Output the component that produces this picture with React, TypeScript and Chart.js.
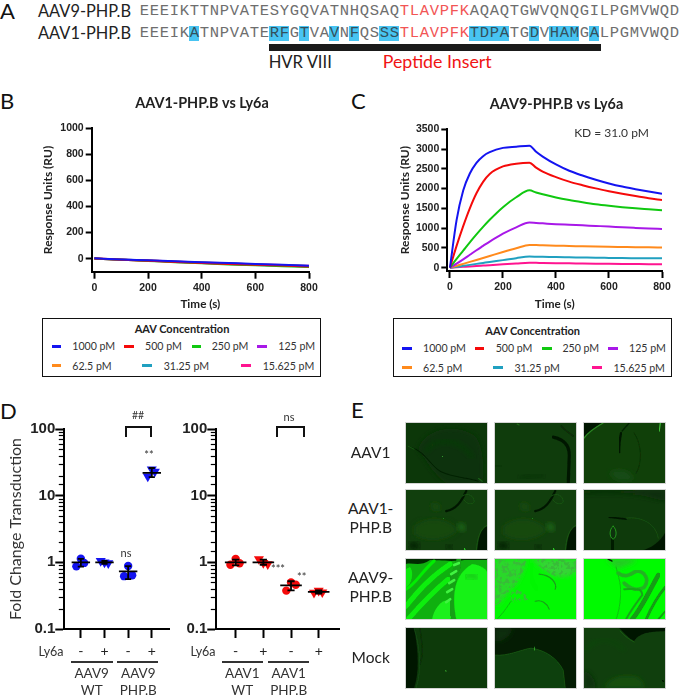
import React, { useEffect, useRef } from "react";
import { Chart, registerables } from "chart.js";

Chart.register(...registerables);

// ---------- Panel A ----------
const seqAAV9 = "EEEIKTTNPVATESYGQVATNHQSAQTLAVPFKAQAQTGWVQNQGILPGMVWQD";
const seqAAV1 = "EEEIKATNPVATERFGTVAVNFQSSSTLAVPFKTDPATGDVHAMGALPGMVWQD";
const insertIdx = [26, 27, 28, 29, 30, 31, 32];
const highlightIdx = [5, 13, 14, 16, 19, 21, 24, 25, 33, 34, 35, 36, 39, 41, 42, 43, 45];

// ---------- Panels B, C ----------
const concLabels = ["1000 pM", "500 pM", "250 pM", "125 pM", "62.5 pM", "31.25 pM", "15.625 pM"];
const concColors = ["#1414f0", "#f50a0a", "#10c810", "#a818e8", "#ff8a1c", "#20a0c0", "#ff1490"];
const timeC = [0, 25, 50, 75, 100, 125, 150, 200, 250, 300, 325, 350, 400, 450, 500, 550, 600, 650, 700, 750, 800];
const c1000 = [0, 1200, 1950, 2380, 2650, 2820, 2920, 3030, 3060, 3085, 2930, 2810, 2610, 2450, 2330, 2225, 2130, 2050, 1985, 1925, 1870];
const c500 = [0, 550, 1050, 1500, 1880, 2170, 2370, 2560, 2630, 2655, 2530, 2430, 2290, 2175, 2085, 2005, 1935, 1870, 1810, 1755, 1710];
const c250 = [0, 220, 430, 640, 840, 1030, 1210, 1530, 1780, 1955, 1900, 1855, 1775, 1710, 1655, 1605, 1565, 1530, 1500, 1475, 1450];
const c125 = [0, 100, 210, 325, 440, 550, 660, 860, 1020, 1140, 1130, 1120, 1100, 1085, 1070, 1055, 1040, 1020, 1005, 992, 980];
const c62 = [0, 45, 95, 145, 195, 245, 295, 395, 490, 575, 572, 565, 555, 548, 540, 533, 527, 522, 517, 513, 510];
const c31 = [0, 20, 45, 70, 95, 120, 145, 190, 240, 280, 278, 275, 268, 262, 256, 250, 246, 242, 239, 236, 235];
const c15 = [0, 10, 20, 30, 42, 52, 62, 85, 105, 125, 122, 118, 112, 108, 103, 99, 96, 93, 90, 87, 85];
const seriesC = [c1000, c500, c250, c125, c62, c31, c15];

const timeB = [0, 100, 200, 300, 400, 500, 600, 700, 800];
const b1000 = [3, -6, -12, -19, -28, -34, -40, -47, -54];
const b500 = [2, -8, -16, -25, -34, -41, -47, -53, -60];
const b250 = [1, -9, -17, -27, -36, -44, -51, -58, -64];
const b125 = [1, -8, -16, -25, -33, -41, -48, -54, -60];
const b62 = [1, -8, -15, -23, -31, -39, -46, -52, -58];
const b31 = [1, -7, -14, -22, -30, -37, -44, -50, -56];
const b15 = [1, -7, -14, -21, -29, -36, -43, -49, -55];
const seriesB = [b1000, b500, b250, b125, b62, b31, b15];

const xTicksSpr = [0, 200, 400, 600, 800];
const yTicksB = [0, 200, 400, 600, 800, 1000];
const yTicksC = [0, 500, 1000, 1500, 2000, 2500, 3000, 3500];

// ---------- Panel D ----------
const ly6a = ["-", "+", "-", "+"];
const aav9Points = [
  [1.13, 0.87, 0.98],
  [1.05, 0.97, 1.0],
  [0.88, 0.62, 0.64],
  [24.7, 19.4, 23],
];
const aav1Points = [
  [1.12, 0.92, 0.97],
  [1.12, 0.94, 0.98],
  [0.5, 0.376, 0.46],
  [0.375, 0.35, 0.355],
];
const jitter = [
  [0, -0.19, 0.14],
  [-0.16, 0.16, 0],
  [0, -0.17, 0.17],
  [0, -0.17, 0.13],
];
const aav9Means = [1.0, 1.0, 0.73, 22];
const aav9Low = [0.86, 0.95, 0.56, 19];
const aav9High = [1.13, 1.05, 0.88, 26];
const aav1Means = [1.0, 1.0, 0.45, 0.36];
const aav1Low = [0.9, 0.92, 0.38, 0.34];
const aav1High = [1.1, 1.1, 0.52, 0.38];

const FS = "Lato, 'Open Sans', sans-serif";
const AR = "'Liberation Sans', Arial, sans-serif";

// ---------- Panel E tile drawings ----------
type Sh = { d: string; f?: string; s?: string; w?: number; g?: boolean; n?: boolean };
type TileDef = { x: number; y: number; bg: string; sh: Sh[] };
const colX = [406, 495, 584];
const rowY = [423, 490, 558.7, 627.7];
const dimTwin: Sh[] = [
  { d: "M8 36 C22 24 44 28 52 40 C40 52 18 52 8 44Z", f: "#154a11", g: true },
  { d: "M52 33 C58 31 62 38 58 41 C54 43 50 38 52 33Z", f: "#1f6419", g: true },
  { d: "M24 14 C30 10 36 14 34 20 C30 24 24 20 24 14Z", f: "#154a11", g: true },
  { d: "M40 21 C50 19 55 12 60 1", s: "#041804", w: 2.2 },
  { d: "M56 6 C62 2 68 6 68 12 C66 15 60 14 58 10", s: "#1a5714", w: 0.8 },
  { d: "M3 54 C6 50 13 52 13 57 C10 60 4 59 3 54Z", f: "#051c04", g: true },
  { d: "M40 55 C43 53 47 55 46 58 C44 60 41 58 40 55Z", f: "#051c04", g: true },
  { d: "M81 36 C73 39 72 52 71 60 L81 60Z", f: "#041604" },
  { d: "M81 35 C73 38 71 50 70 60", s: "#206418", w: 0.6 },
  { d: "M58 58 L59 60", s: "#2fd02a", w: 1.2 },
  { d: "M37 28 L37.6 28.6", s: "#2a9a24", w: 0.7 },
];
const tiles: TileDef[] = [
  { x: 0, y: 0, bg: "#0c3709", sh: [
    { d: "M12 27 C16 8 45 -2 68 12 C78 22 78 46 76 60 L40 60 C26 50 20 36 12 27Z", f: "#0a3008", g: true },
    { d: "M4 24 C18 27 24 42 34 48 C48 55 62 54 72 58", s: "#052005", w: 1 },
    { d: "M20 28 C30 14 52 14 66 34", s: "#113f0d", w: 2.4, g: true },
    { d: "M2 23 L8 26", s: "#1c6017", w: 0.8 },
    { d: "M36 33 L36.6 33.6", s: "#3fb838", w: 0.8 },
    { d: "M72 55 L76 58", s: "#1a5e15", w: 1.2 },
  ] },
  { x: 1, y: 0, bg: "#0f3c0c", sh: [
    { d: "M58 14 C68 16 74 22 74 32 L73 60", s: "#041804", w: 3.2 },
    { d: "M66 3 C70 8 74 10 78 13", s: "#0a2c08", w: 1.6 },
    { d: "M0 42 L6 43", s: "#0a2c08", w: 2.6, g: true },
    { d: "M25 55 C32 53 42 52 48 52", s: "#0a2c08", w: 2, g: true },
    { d: "M22 1 L24 2", s: "#226c1c", w: 1 },
  ] },
  { x: 2, y: 0, bg: "#104009", sh: [
    { d: "M0 0 L18 0 C12 4 4 8 0 14Z", f: "#031403" },
    { d: "M0 15 C5 8 12 4 19 0", s: "#2a8622", w: 1.3 },
    { d: "M37 10 C35 18 35 22 35 29", s: "#041804", w: 2.4 },
    { d: "M45 0 L38 8", s: "#062206", w: 1.3 },
    { d: "M76 0 L75 8", s: "#3fc038", w: 1.2 },
    { d: "M0 47 L8 47", s: "#041804", w: 2 },
    { d: "M25 50 C32 44 46 46 50 56 C40 60 30 58 25 50Z", f: "#154c12", g: true },
    { d: "M50 10 C58 22 58 40 52 50", s: "#0b2f08", w: 0.9 },
  ] },
  { x: 0, y: 1, bg: "#113f0d", sh: dimTwin },
  { x: 1, y: 1, bg: "#113f0d", sh: dimTwin },
  { x: 2, y: 1, bg: "#0e3a0b", sh: [
    { d: "M0 0 L81 0 L81 12 C60 4 30 2 0 4Z", f: "#0a2e08", g: true },
    { d: "M25 27 L42 29", s: "#041804", w: 1.6 },
    { d: "M28 38 C27 46 27 52 29 60", s: "#051c04", w: 6 },
    { d: "M29 36 C25 39 25 47 29 49 C33 47 33 39 29 36Z", f: "#0b300a", s: "#2cb024", w: 0.8 },
    { d: "M81 42 C76 52 66 58 58 60 L81 60Z", f: "#041804" },
    { d: "M42 28 C58 26 72 34 74 48", s: "#1a5c14", w: 0.6 },
  ] },
  { x: 0, y: 2, bg: "#0fb00f", sh: [
    { d: "M0 0 H81 V1 H58 C46 3 30 1 24 1 C14 8 6 3 0 5Z", f: "#022b02" },
    { d: "M0 28 C6 26 8 12 4 8 L0 10Z", f: "#0ce80c" },
    { d: "M0 30 C9 26 16 12 28 2", s: "#04ee04", w: 3 },
    { d: "M0 47 C12 32 24 18 44 5", s: "#0aee0a", w: 5 },
    { d: "M2 60 C16 44 30 30 42 20", s: "#0aee0a", w: 5 },
    { d: "M26 60 C28 48 38 38 44 42 C46 50 46 56 44 60Z", f: "#1cf01c" },
    { d: "M54 0 C50 14 44 22 46 32 C44 42 44 52 50 60", s: "#12a012", w: 7 },
    { d: "M53 4 L48 6 M50 12 L45 15 M48 21 L43 24 M46 30 L41 33 M44 40 L40 43", s: "#40f440", w: 2.6 },
    { d: "M50 60 C46 40 46 16 66 5 C74 6 81 10 81 14 L81 60Z", f: "#12f212" },
    { d: "M60 18 C64 14 70 16 70 20", s: "#14b814", w: 3, g: true },
  ] },
  { x: 1, y: 2, bg: "#02f802", sh: [
    { d: "M0 0 H31 C30 10 24 24 16 30 C8 40 4 46 0 46Z", f: "#2cd82c", g: true },
    { d: "M0 0 H31 C30 10 24 24 16 30 C8 40 4 46 0 46Z", f: "#0c7c0c", n: true },
    { d: "M36 0 H81 V12 C70 22 60 18 52 13 C44 8 42 4 36 0Z", f: "#34d434", g: true },
    { d: "M36 0 H81 V12 C70 22 60 18 52 13 C44 8 42 4 36 0Z", f: "#0c7c0c", n: true },
    { d: "M18 28 C26 30 30 36 36 40 L14 44Z", f: "#0c900c", n: true },
    { d: "M34 0 L44 0", s: "#033303", w: 1.8 },
    { d: "M36 6 C34 14 36 24 42 30", s: "#06f606", w: 5 },
    { d: "M44 15 C56 16 62 24 60 30", s: "#1aa01a", w: 1.2 },
    { d: "M40 42 C46 40 52 44 54 50", s: "#1a9a1a", w: 1 },
    { d: "M2 60 C8 54 12 48 16 42", s: "#169a16", w: 0.6 },
  ] },
  { x: 2, y: 2, bg: "#00fa00", sh: [
    { d: "M22 0 H52 C50 6 38 6 34 10 C30 6 26 4 22 0Z", f: "#28c828", g: true },
    { d: "M24 0 L28 2", s: "#042a04", w: 1.4 },
    { d: "M32 8 C34 18 38 24 36 42 C35 50 34 54 32 60", s: "#14a014", w: 0.6 },
    { d: "M34 14 C42 20 48 14 52 12 C60 12 66 20 60 28 C54 32 46 30 40 24", s: "#22b422", w: 3.6 },
    { d: "M40 30 C50 30 58 28 58 36 C52 44 46 52 42 60", s: "#18a818", w: 2 },
    { d: "M48 60 C58 48 66 30 74 16", s: "#129c12", w: 4.6 },
    { d: "M62 60 C68 46 76 34 81 28", s: "#129c12", w: 2.8 },
    { d: "M74 60 L81 52", s: "#129c12", w: 1.8 },
  ] },
  { x: 0, y: 3, bg: "#0d3a0a", sh: [
    { d: "M0 0 H8 C12 20 14 42 8 60 H0Z", f: "#041804" },
    { d: "M14 0 C16 18 18 24 14 36", s: "#0a2f08", w: 1.3 },
    { d: "M8 0 C14 18 16 42 10 60", s: "#17501a", w: 0.6 },
    { d: "M39 42 L40 43", s: "#2a8a24", w: 1.2 },
  ] },
  { x: 1, y: 3, bg: "#041c03", sh: [
    { d: "M0 27 C14 28 24 22 36 20 C50 22 62 30 68 42 L70 60 H0Z", f: "#0f3f0c" },
    { d: "M0 27 C14 28 24 22 36 20 C50 22 62 30 68 42 L70 60", s: "#1c6416", w: 0.6 },
    { d: "M39 19 L39.5 22", s: "#2fa228", w: 1 },
    { d: "M0 0 H18 C16 8 8 14 0 14Z", f: "#0a2e08", g: true },
  ] },
  { x: 2, y: 3, bg: "#103f0d", sh: [
    { d: "M35 0 H81 V3 C70 4 56 3 50 13 C44 10 40 5 35 0Z", f: "#031403" },
    { d: "M36 3 C40 8 46 12 50 14", s: "#1c6316", w: 0.7 },
    { d: "M0 24 C12 8 26 8 40 22", s: "#165213", w: 1, g: true },
    { d: "M20 60 C24 50 36 46 50 48 C58 50 60 56 60 60Z", f: "#155011", g: true },
    { d: "M0 42 C6 44 12 52 12 60 L0 60Z", f: "#0b300a", g: true },
    { d: "M78 52 L79 53", s: "#031403", w: 1.4 },
  ] },
];
const rowNames: [string[], number][] = [
  [["AAV1"], 453],
  [["AAV1-", "PHP.B"], 518.5],
  [["AAV9-", "PHP.B"], 587],
  [["Mock"], 657.7],
];

function Txt(p: { x: number; y: number; t: string; size: number; color?: string; bold?: boolean; font?: string; align?: "c" | "l" | "r" }) {
  const a = p.align || "c";
  const tx = a === "c" ? "-50%" : a === "l" ? "0" : "-100%";
  return (
    <div
      style={{
        position: "absolute",
        left: p.x,
        top: p.y,
        transform: `translate(${tx},-50%)`,
        fontFamily: p.font || FS,
        fontSize: p.size,
        fontWeight: p.bold ? 700 : 400,
        color: p.color || "#222",
        whiteSpace: "nowrap",
        lineHeight: 1,
      }}
    >
      {p.t}
    </div>
  );
}

function Seq({ y, s, hl }: { y: number; s: string; hl: boolean }) {
  return (
    <div style={{ position: "absolute", left: 139.3, top: y - 7.5, height: 15, display: "flex" }}>
      {s.split("").map((c, i) => {
        const ins = insertIdx.includes(i);
        const high = hl && highlightIdx.includes(i);
        return (
          <span
            key={i}
            style={{
              width: 10,
              height: 15,
              lineHeight: "15px",
              textAlign: "center",
              fontFamily: "'Liberation Mono', 'DejaVu Sans Mono', monospace",
              fontSize: 15.5,
              color: high ? "#33505c" : ins ? "#f25555" : "#6e6e6e",
              background: high ? "#48c4f2" : "transparent",
              display: "block",
            }}
          >
            {c}
          </span>
        );
      })}
    </div>
  );
}

const swatchB = [
  [51.7, 72.3], [124, 145], [191.7, 211.7], [257.3, 278.3],
  [51.7, 72.3], [142.3, 163.7], [241.3, 262.7],
];

function LegendBox({ dx, dy }: { dx: number; dy: number }) {
  return (
    <>
      <div
        style={{
          position: "absolute",
          left: 42.3 + dx,
          top: 317.5,
          width: 276.5,
          height: 57.5,
          border: "1.5px solid #111",
        }}
      />
      <Txt x={182 + dx} y={327.7 + dy} t="AAV Concentration" size={11} bold />
      {concLabels.map((l, i) => {
        const y = (i < 4 ? 346 : 365.7) + dy;
        const [sx, tx] = swatchB[i];
        return (
          <React.Fragment key={l}>
            <div style={{ position: "absolute", left: sx + dx, top: y - 1.5, width: 9.5, height: 3, background: concColors[i] }} />
            <Txt x={tx + dx} y={y} t={l} size={10.6} align="l" color="#333" />
          </React.Fragment>
        );
      })}
    </>
  );
}

function useSpr(ref: React.RefObject<HTMLCanvasElement | null>, cfg: {
  time: number[]; series: number[][]; yMin: number; yMax: number; yTicks: number[]; title: string;
  L: number; R: number; titlePad: { top: number; bottom: number }; xH: number;
}) {
  useEffect(() => {
    const chart = new Chart(ref.current as HTMLCanvasElement, {
      type: "line",
      data: {
        datasets: cfg.series.map((s, i) => ({
          label: concLabels[i],
          data: s.map((v, j) => ({ x: cfg.time[j], y: v })),
          borderColor: concColors[i],
          backgroundColor: concColors[i],
          borderWidth: 2,
          pointRadius: 0,
          cubicInterpolationMode: "monotone" as const,
        })),
      },
      options: {
        animation: false,
        responsive: false,
        layout: { autoPadding: false, padding: 0 },
        plugins: {
          legend: { display: false },
          tooltip: { enabled: false },
          title: {
            display: true,
            text: cfg.title,
            color: "#222",
            font: { family: FS, size: 14.4, weight: "bold", lineHeight: 1.2 },
            padding: cfg.titlePad,
          },
        },
        scales: {
          x: {
            type: "linear",
            min: -10,
            max: 800,
            afterBuildTicks: (s: any) => { s.ticks = xTicksSpr.map((value) => ({ value })); },
            afterFit: (s: any) => { s.height = cfg.xH; },
            border: { width: 2, color: "#000" },
            grid: { drawOnChartArea: false, tickLength: 7, tickWidth: 2, tickColor: "#000" },
            ticks: { color: "#222", padding: 3, maxRotation: 0, font: { family: AR, size: 10.5, weight: "bold" }, callback: (v: number) => String(v) },
            title: { display: true, text: "Time (s)", color: "#222", font: { family: FS, size: 11.7, weight: "bold", lineHeight: 1.2 }, padding: { top: 3 } },
          },
          y: {
            type: "linear",
            min: cfg.yMin,
            max: cfg.yMax,
            afterBuildTicks: (s: any) => { s.ticks = cfg.yTicks.map((value) => ({ value })); },
            afterFit: (s: any) => { s.width = cfg.L; },
            border: { width: 2, color: "#000" },
            grid: { drawOnChartArea: false, tickLength: 6, tickWidth: 2, tickColor: "#000" },
            ticks: { color: "#222", padding: 2, font: { family: AR, size: 10.5, weight: "bold" }, callback: (v: number) => String(v) },
            title: { display: true, text: "Response Units (RU)", color: "#222", font: { family: FS, size: 12, weight: "bold", lineHeight: 1.2 }, padding: { top: 1 } },
          },
          // empty right-hand margin, so that the title centres on the whole canvas
          margin: {
            type: "linear",
            position: "right",
            display: true,
            grid: { display: false },
            border: { display: false },
            ticks: { display: false },
            afterFit: (s: any) => { s.width = cfg.R; },
          },
        },
      },
    } as any);
    return () => chart.destroy();
  }, []);
}

const isPow10 = (v: number) => Math.abs(Math.log10(v) - Math.round(Math.log10(v))) < 1e-6;

const minorTicks = {
  id: "minorTicks",
  afterDraw(chart: any) {
    const s = chart.scales.y;
    const ctx = chart.ctx;
    ctx.save();
    ctx.strokeStyle = "#000";
    ctx.lineWidth = 1.2;
    s.ticks.forEach((t: any) => {
      if (isPow10(t.value)) return;
      const y = Math.round(s.getPixelForValue(t.value)) + 0.5;
      ctx.beginPath();
      ctx.moveTo(s.right - 5.5, y);
      ctx.lineTo(s.right, y);
      ctx.stroke();
    });
    ctx.restore();
  },
};

function useFold(ref: React.RefObject<HTMLCanvasElement | null>, cfg: {
  pts: number[][]; means: number[]; low: number[]; high: number[]; color: string; L: number; yTitle?: string;
}) {
  useEffect(() => {
    const summary: { x: number; y: number }[] = [];
    const gap = { x: NaN, y: NaN };
    cfg.means.forEach((m, i) => {
      summary.push({ x: i - 0.39, y: m }, { x: i + 0.39, y: m }, gap);
      summary.push({ x: i, y: cfg.low[i] }, { x: i, y: cfg.high[i] }, gap);
      summary.push({ x: i - 0.13, y: cfg.low[i] }, { x: i + 0.13, y: cfg.low[i] }, gap);
      summary.push({ x: i - 0.13, y: cfg.high[i] }, { x: i + 0.13, y: cfg.high[i] }, gap);
    });
    const chart = new Chart(ref.current as HTMLCanvasElement, {
      type: "scatter",
      data: {
        datasets: [
          {
            label: "mean and SD",
            data: summary,
            showLine: true,
            spanGaps: false,
            borderColor: "#000",
            borderWidth: 1.8,
            pointRadius: 0,
          },
          ...cfg.pts.map((g, i) => ({
            label: `group ${i}`,
            data: g.map((v, j) => ({ x: i + jitter[i][j], y: v })),
            pointStyle: i % 2 === 0 ? "circle" : "triangle",
            pointRotation: i % 2 === 0 ? 0 : 180,
            pointRadius: i % 2 === 0 ? 4.2 : 5.8,
            backgroundColor: cfg.color,
            borderColor: cfg.color,
            borderWidth: 0,
          })),
        ],
      },
      options: {
        animation: false,
        responsive: false,
        layout: { autoPadding: false, padding: { left: 0, right: 0, top: 8, bottom: 0 } },
        plugins: { legend: { display: false }, tooltip: { enabled: false } },
        scales: {
          x: {
            type: "linear",
            min: -0.7,
            max: 3.77,
            afterBuildTicks: (s: any) => { s.ticks = ly6a.map((_, i) => ({ value: i })); },
            afterFit: (s: any) => { s.height = 34; },
            border: { width: 2, color: "#000" },
            grid: { drawOnChartArea: false, tickLength: 9, tickWidth: 2, tickColor: "#000" },
            ticks: {
              color: "#222",
              padding: 5,
              maxRotation: 0,
              font: { family: FS, size: 14 },
              callback: (v: number) => ly6a[v],
            },
          },
          y: {
            type: "logarithmic",
            min: 0.1,
            max: 100,
            afterFit: (s: any) => { s.width = cfg.L; },
            border: { width: 2, color: "#000" },
            grid: {
              drawOnChartArea: false,
              tickLength: 9,
              tickWidth: 2,
              tickColor: (c: any) => (c.tick && isPow10(c.tick.value) ? "#000" : "transparent"),
            },
            ticks: {
              color: "#222",
              padding: 0,
              autoSkip: false,
              font: { family: AR, size: 15, weight: "bold" },
              callback: (v: number) => (isPow10(v) ? String(v) : ""),
            },
            title: cfg.yTitle
              ? { display: true, text: cfg.yTitle, color: "#333", font: { family: FS, size: 16, lineHeight: 1.2 }, padding: { top: 6 } }
              : { display: false },
          },
        },
      },
      plugins: [minorTicks],
    } as any);
    return () => chart.destroy();
  }, []);
}

function Bracket({ x1, x2 }: { x1: number; x2: number }) {
  return (
    <div
      style={{
        position: "absolute",
        left: x1 - 1,
        top: 426,
        width: x2 - x1,
        height: 9,
        borderTop: "2px solid #111",
        borderLeft: "2px solid #111",
        borderRight: "2px solid #111",
      }}
    />
  );
}

function Tile({ d }: { d: TileDef }) {
  const id = `tile${d.x}${d.y}`;
  return (
    <svg
      width={81.3}
      height={60.3}
      viewBox="0 0 81 60"
      preserveAspectRatio="none"
      style={{ position: "absolute", left: colX[d.x], top: rowY[d.y], outline: "1px solid #d4d4d4" }}
    >
      <defs>
        <filter id={id} x="-5%" y="-5%" width="110%" height="110%">
          <feGaussianBlur stdDeviation={0.45} />
        </filter>
        <filter id={`${id}g`} x="-10%" y="-10%" width="120%" height="120%">
          <feGaussianBlur stdDeviation={2.6} />
        </filter>
        <filter id={`${id}n`} x="0" y="0" width="100%" height="100%">
          <feTurbulence type="fractalNoise" baseFrequency="0.28" numOctaves="2" seed={d.x + 3 * d.y} result="t" />
          <feColorMatrix in="t" type="matrix" values="0 0 0 0 0.04  0 0 0 0 0.5  0 0 0 0 0.04  0 0 0 7 -3.4" result="c" />
          <feComposite in="c" in2="SourceGraphic" operator="in" />
        </filter>
      </defs>
      <rect width="81" height="60" fill={d.bg} />
      {d.sh.map((s, i) => (
        <path
          key={i}
          d={s.d}
          filter={`url(#${id}${s.g ? "g" : s.n ? "n" : ""})`}
          fill={s.f || "none"}
          stroke={s.s || "none"}
          strokeWidth={s.w || 0}
          strokeLinecap="round"
        />
      ))}
    </svg>
  );
}

const foldGroups = [
  { labels: [["AAV9", "WT"], ["AAV9", "PHP.B"]], cx: [91.7, 138.3], rules: [[71, 112.7], [117, 158]], ly: 51 },
  { labels: [["AAV1", "WT"], ["AAV1", "PHP.B"]], cx: [242.3, 288.7], rules: [[222.3, 263.3], [268.3, 309.3]], ly: 203 },
];

export default function App() {
  const bRef = useRef<HTMLCanvasElement>(null);
  const cRef = useRef<HTMLCanvasElement>(null);
  const dlRef = useRef<HTMLCanvasElement>(null);
  const drRef = useRef<HTMLCanvasElement>(null);

  useSpr(bRef, {
    time: timeB, series: seriesB, yMin: -100, yMax: 1000, yTicks: yTicksB, title: "AAV1-PHP.B vs Ly6a",
    L: 51.7, R: 55, titlePad: { top: 10, bottom: 16 }, xH: 43.3,
  });
  useSpr(cRef, {
    time: timeC, series: seriesC, yMin: -85, yMax: 3500, yTicks: yTicksC, title: "AAV9-PHP.B vs Ly6a",
    L: 50.3, R: 54, titlePad: { top: 11, bottom: 16 }, xH: 44,
  });
  useFold(dlRef, { pts: aav9Points, means: aav9Means, low: aav9Low, high: aav9High, color: "#1414f0", L: 64.3, yTitle: "Fold Change Transduction" });
  useFold(drRef, { pts: aav1Points, means: aav1Means, low: aav1Low, high: aav1High, color: "#f50a0a", L: 46.3 });

  return (
    <div style={{ position: "absolute", left: 0, top: 0, width: 680, height: 696, overflow: "hidden", background: "#fff" }}>
      {/* Panel letters */}
      <Txt x={0} y={11} t="A" size={22} align="l" color="#111" />
      <Txt x={0} y={101} t="B" size={22} align="l" color="#111" />
      <Txt x={351} y={101} t="C" size={22} align="l" color="#111" />
      <Txt x={0} y={411} t="D" size={22} align="l" color="#111" />
      <Txt x={351} y={410} t="E" size={22} align="l" color="#111" />

      {/* Panel A */}
      <Txt x={38} y={11} t="AAV9-PHP.B" size={16.4} align="l" />
      <Txt x={38} y={33.3} t="AAV1-PHP.B" size={16.4} align="l" />
      <Seq y={11} s={seqAAV9} hl={false} />
      <Seq y={33.3} s={seqAAV1} hl={true} />
      <div style={{ position: "absolute", left: 268.7, top: 44, width: 332, height: 7, background: "#1a1a1a" }} />
      <Txt x={268.7} y={62} t="HVR VIII" size={16.6} align="l" />
      <Txt x={382.7} y={62} t="Peptide Insert" size={17.8} align="l" color="#f01414" />

      {/* Panels B and C */}
      <canvas ref={bRef} width={324} height={230} style={{ position: "absolute", left: 40, top: 85 }} />
      <canvas ref={cRef} width={319} height={230} style={{ position: "absolute", left: 397, top: 85 }} />
      <Txt x={611.5} y={132.7} t="KD = 31.0 pM" size={12} color="#333" />
      <LegendBox dx={0} dy={0} />
      <LegendBox dx={350.7} dy={2} />

      {/* Panel D */}
      <canvas ref={dlRef} width={170} height={243} style={{ position: "absolute", left: 0, top: 420 }} />
      <canvas ref={drRef} width={170} height={243} style={{ position: "absolute", left: 170, top: 420 }} />
      {foldGroups.map((g) => (
        <React.Fragment key={g.ly}>
          <Txt x={g.ly} y={652} t="Ly6a" size={12.5} color="#333" />
          {g.rules.map((r, i) => (
            <div key={i} style={{ position: "absolute", left: r[0], top: 661, width: r[1] - r[0], height: 1.5, background: "#333" }} />
          ))}
          {g.labels.map((l, i) => (
            <React.Fragment key={i}>
              <Txt x={g.cx[i]} y={674} t={l[0]} size={13.5} color="#333" />
              <Txt x={g.cx[i]} y={691} t={l[1]} size={13.5} color="#333" />
            </React.Fragment>
          ))}
        </React.Fragment>
      ))}
      <Bracket x1={126} x2={149} />
      <Bracket x1={277} x2={301.7} />
      <Txt x={138} y={415} t="##" size={10.5} color="#333" />
      <Txt x={149} y={454} t="**" size={11} color="#333" />
      <Txt x={126} y={552} t="ns" size={11} color="#333" />
      <Txt x={289} y={415.5} t="ns" size={11} color="#333" />
      <Txt x={278} y={568} t="***" size={11} color="#333" />
      <Txt x={301.7} y={576} t="**" size={11} color="#333" />

      {/* Panel E */}
      {rowNames.map(([lines, cy]) =>
        lines.map((l, i) => (
          <Txt key={l + cy} x={370.7} y={cy + (i - (lines.length - 1) / 2) * 19} t={l} size={15.5} color="#222" />
        ))
      )}
      {tiles.map((d) => (
        <Tile key={`${d.x}${d.y}`} d={d} />
      ))}
    </div>
  );
}
